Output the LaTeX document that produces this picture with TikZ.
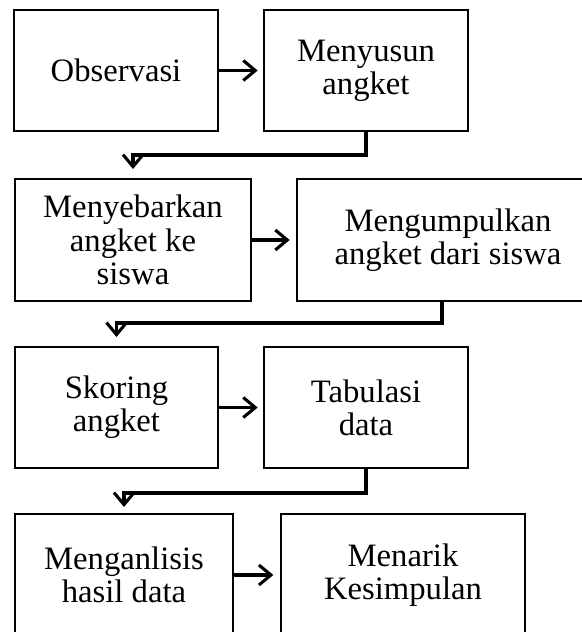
\documentclass[tikz,border=0pt]{standalone}
\usepackage{fontspec}
\setmainfont{Liberation Serif}
\usetikzlibrary{arrows.meta}

\begin{document}
\begin{tikzpicture}[x=0.75pt,y=-0.75pt,
    kotak/.style={draw,line width=1.5pt,rectangle,align=center,inner sep=0pt,
      font=\fontsize{24.5}{25}\selectfont},
    panah/.style={line width=2.3pt,-{Straight Barb[length=9pt,width=15pt]}},
    siku/.style={panah,rounded corners=0pt}]

  \useasboundingbox (0,0) rectangle (582,632);
  \clip (0,0) rectangle (582,632);

  \begin{scope}[every node/.style={kotak}]
    \node[minimum width=153pt,minimum height=90.75pt] (obs)      at (116,70.5)  {Observasi};
    \node[minimum width=153pt,minimum height=90.75pt] (menyusun) at (366,70.5)  {Menyusun\\angket};
    \node[minimum width=177pt,minimum height=91.5pt]  (menyebar) at (133,240)   {Menyebarkan\\angket ke\\siswa};
    \node[minimum width=226pt,minimum height=91.5pt]  (kumpul)   at (448,240)   {Mengumpulkan\\angket dari siswa};
    \node[minimum width=152.25pt,minimum height=90.75pt] (skor)  at (116.5,407.5) {Skoring\\angket};
    \node[minimum width=153pt,minimum height=90.75pt] (tabulasi) at (366,407.5) {Tabulasi\\data};
    \node[minimum width=163.5pt,minimum height=91.5pt] (analisis) at (124,575)  {Menganlisis\\hasil data};
    \node[minimum width=183pt,minimum height=91.5pt]  (menarik)  at (403,575)   {Menarik\\Kesimpulan};
  \end{scope}

  % panah ke kanan
  \draw[panah,shorten >=4pt] (obs) -- (menyusun);
  \draw[panah,shorten >=5pt] (menyebar) -- (kumpul);
  \draw[panah,shorten >=4pt] (skor) -- (tabulasi);
  \draw[panah,shorten >=5pt] (analisis) -- (menarik);

  % panah ke baris berikutnya
  \draw[siku] (menyusun.south) -- ++(0,23) -| ([yshift=6.75pt]menyebar.north);
  \draw[siku] ([xshift=-4.5pt]kumpul.south) -- ++(0,21) -| ([yshift=6.75pt]skor.north);
  \draw[siku] (tabulasi.south) -- ++(0,24) -| ([yshift=4.5pt]analisis.north);

\end{tikzpicture}
\end{document}
